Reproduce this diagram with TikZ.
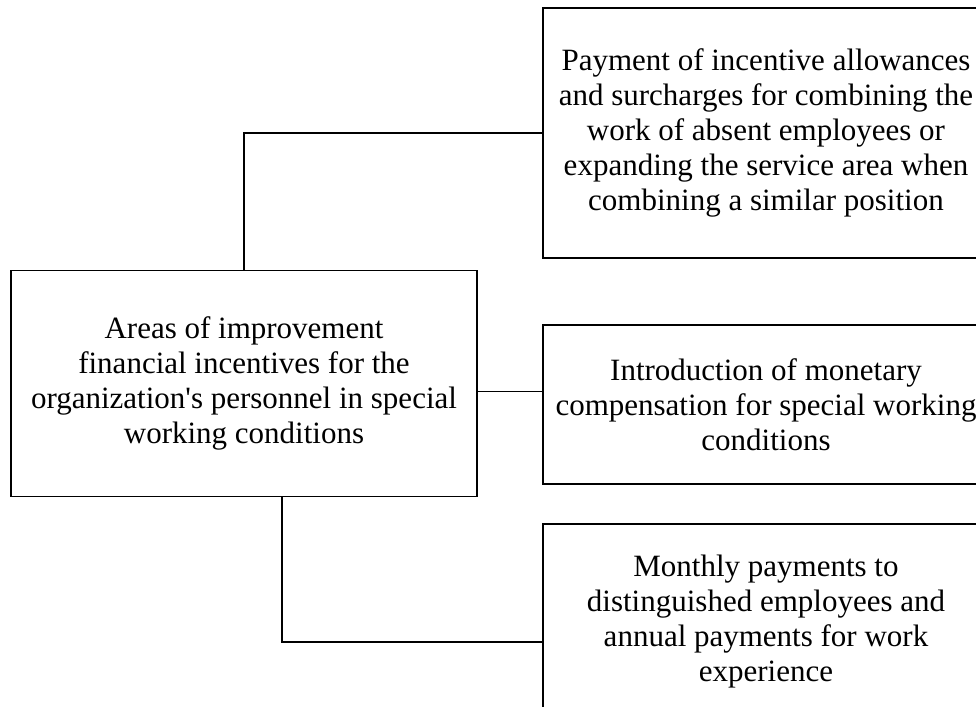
\documentclass[tikz,border=0pt]{standalone}
\usepackage{fontspec}
\setmainfont{Liberation Serif}
\tikzset{
    box/.style={draw,line width=1.2pt,align=center,inner sep=0pt,
        font=\fontsize{31}{35}\selectfont},
    link/.style={line width=1.2pt}
}

\begin{document}
\begin{tikzpicture}[x=1pt,y=-1pt]
          \clip (0,0) rectangle (976,706); % page frame

          \node[box,minimum width=466,minimum height=226] (areas) at (244,383.5)
              {Areas of improvement\\ financial incentives for the\\
               organization\textquotesingle s personnel in special\\ working conditions};

          \node[box,minimum width=446,minimum height=250] (allow) at (766,133)
              {Payment of incentive allowances\\ and surcharges for combining the\\
               work of absent employees or\\ expanding the service area when\\
               combining a similar position};
          \node[box,minimum width=446,minimum height=159] (comp) at (766,404.5)
              {Introduction of monetary\\ compensation for special working\\ conditions};
          \node[box,minimum width=446,minimum height=196] (month) at (766,622)
              {Monthly payments to\\ distinguished employees and\\
               annual payments for work\\ experience};

          \draw[link] (areas.north) |- (allow.west);
          \draw[link] ([yshift=-8pt]areas.east) -- ([yshift=-8pt]areas.east -| comp.west);
          \draw[link] ([xshift=38pt]areas.south) |- ([yshift=-20pt]month.west);
\end{tikzpicture}
\end{document}
